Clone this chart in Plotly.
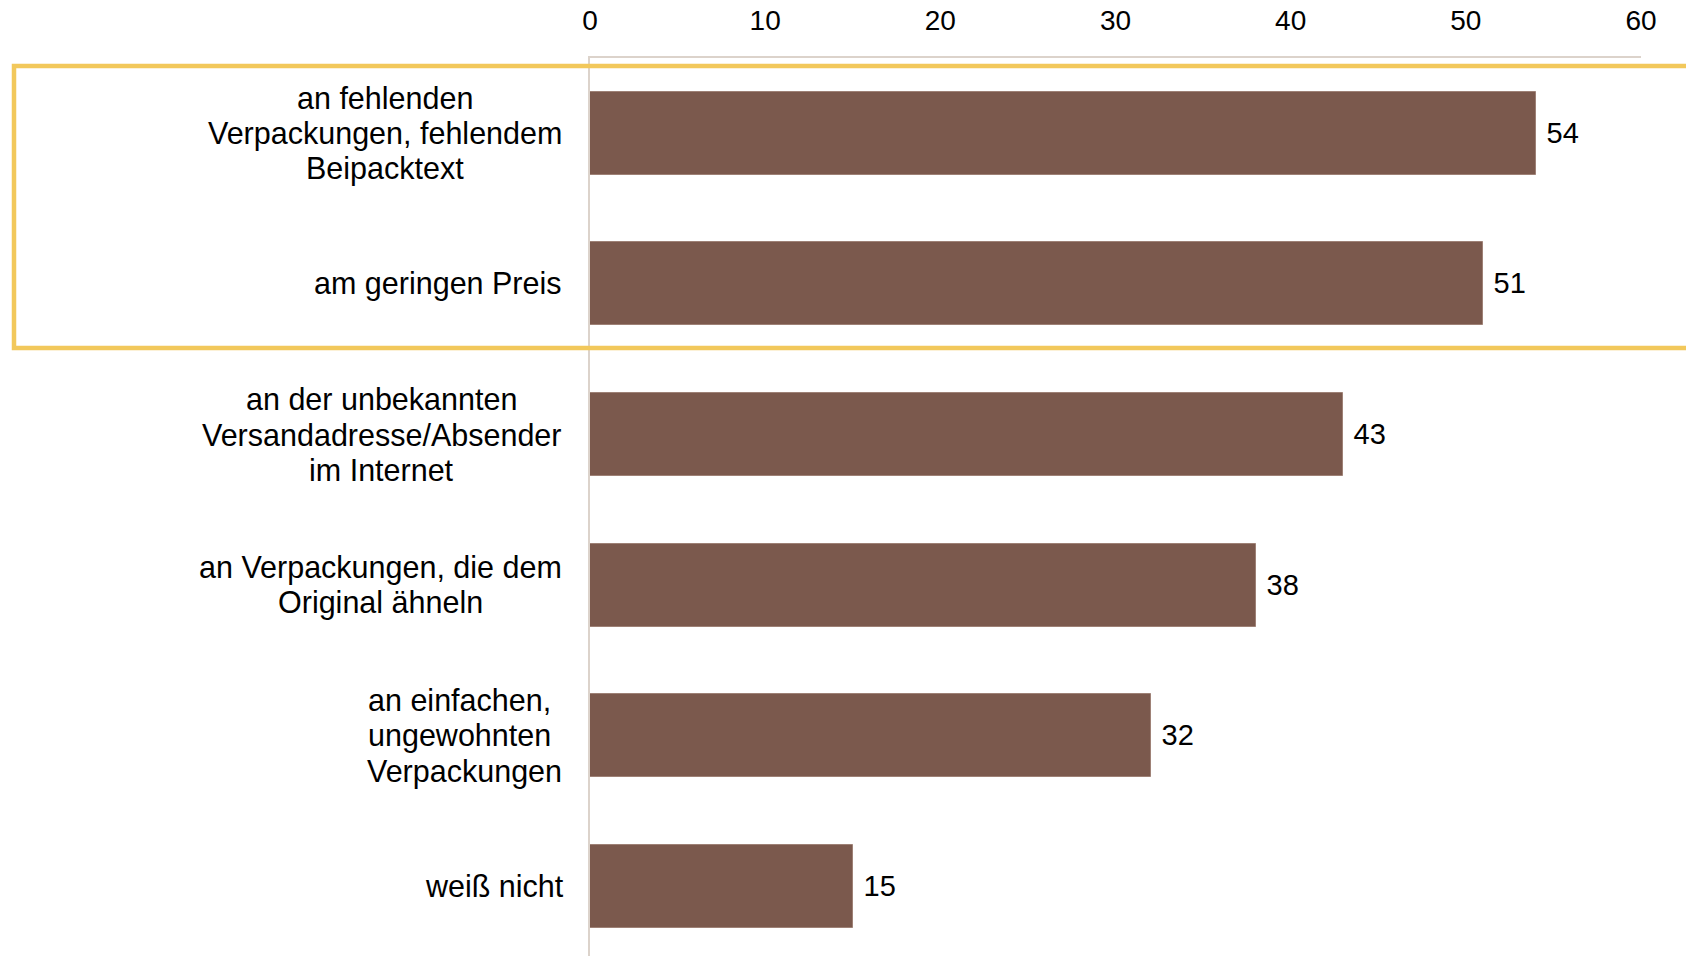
import plotly.graph_objects as go

# Survey answers (percent), top to bottom
categories = [
    "an fehlenden<br>Verpackungen, fehlendem<br>Beipacktext",
    "am geringen Preis",
    "an der unbekannten<br>Versandadresse/Absender<br>im Internet",
    "an Verpackungen, die dem<br>Original ähneln",
    "an einfachen,\u00a0<br>ungewohnten\u00a0<br>Verpackungen",
    "weiß nicht",
]
values = [54, 51, 43, 38, 32, 15]
x_ticks = [0, 10, 20, 30, 40, 50, 60]

W, H = 1686, 956
M_L, M_R, M_T, M_B = 590, 45, 58, 0
FONT = "Liberation Sans, Arial, sans-serif"
BAR = "#7B594D"
AXIS = "#DCD3CB"
HIGHLIGHT = "#F2C85B"
LABEL_SIZE = 30.5
LINE_PITCH = 35.5
LABEL_RIGHT = 563  # right edge of the label column, px

positions = list(range(len(categories)))

fig = go.Figure(
    go.Bar(
        x=values,
        y=positions,
        orientation="h",
        width=0.55,
        marker=dict(color=BAR, line=dict(color="#9E8176", width=1)),
        text=[f"\u00a0{v}" for v in values],
        textposition="outside",
        cliponaxis=False,
        textfont=dict(family=FONT, size=29, color="#000000"),
        hoverinfo="skip",
    )
)

# category labels: each line centred on the widest line of its block,
# block right-aligned next to the axis
def text_width(s, size):
    # rough Arial advance widths, only used to centre lines within a block
    w = 0.0
    for ch in s:
        if ch in "ilj.,":
            w += 0.24
        elif ch in "tf/ \u00a0I":
            w += 0.28
        elif ch == "r":
            w += 0.333
        elif ch in "mM":
            w += 0.833
        elif ch in "wW":
            w += 0.72
        elif ch.isupper():
            w += 0.70
        elif ch in "skcz":
            w += 0.50
        else:
            w += 0.556
    return w * size

for pos, label in zip(positions, categories):
    lines = label.split("<br>")
    widths = [text_width(l, LABEL_SIZE) for l in lines]
    block_w = max(widths)
    n = len(lines)
    for i, line in enumerate(lines):
        offset = (i - (n - 1) / 2) * LINE_PITCH
        fig.add_annotation(
            x=0, xref="paper", y=pos, yref="y",
            text=line, showarrow=False,
            xanchor="center", yanchor="middle", align="center",
            xshift=(LABEL_RIGHT - M_L) - block_w / 2,
            yshift=-offset,
            font=dict(family=FONT, size=LABEL_SIZE, color="#000000"),
        )

plot_h = H - M_T - M_B
slot = 150.6
y_top = -0.5
y_bottom = y_top + plot_h / slot

# highlight frame around the two leading answers
def px_to_paper_y(py):
    return (H - M_B - py) / plot_h

def px_to_paper_x(px):
    return (px - M_L) / (W - M_L - M_R)

fig.add_shape(
    type="rect", xref="paper", yref="paper",
    x0=px_to_paper_x(14), x1=px_to_paper_x(1700),
    y0=px_to_paper_y(348), y1=px_to_paper_y(66),
    line=dict(color=HIGHLIGHT, width=4.5), fillcolor="rgba(0,0,0,0)",
    layer="above",
)

fig.update_layout(
    width=W, height=H,
    margin=dict(l=M_L, r=M_R, t=M_T, b=M_B, pad=0),
    paper_bgcolor="white", plot_bgcolor="white",
    showlegend=False,
    bargap=0,
)
fig.update_xaxes(
    side="top", range=[0, 60], tickvals=x_ticks,
    showgrid=False, zeroline=False,
    showline=True, linecolor=AXIS, linewidth=1.5,
    ticks="", ticklabelstandoff=15,
    tickfont=dict(family=FONT, size=28, color="#000000"),
)
fig.update_yaxes(
    range=[y_bottom, y_top], showticklabels=False,
    showgrid=False, zeroline=False,
    showline=True, linecolor=AXIS, linewidth=1.5, ticks="",
)

fig.write_html("out.html")
